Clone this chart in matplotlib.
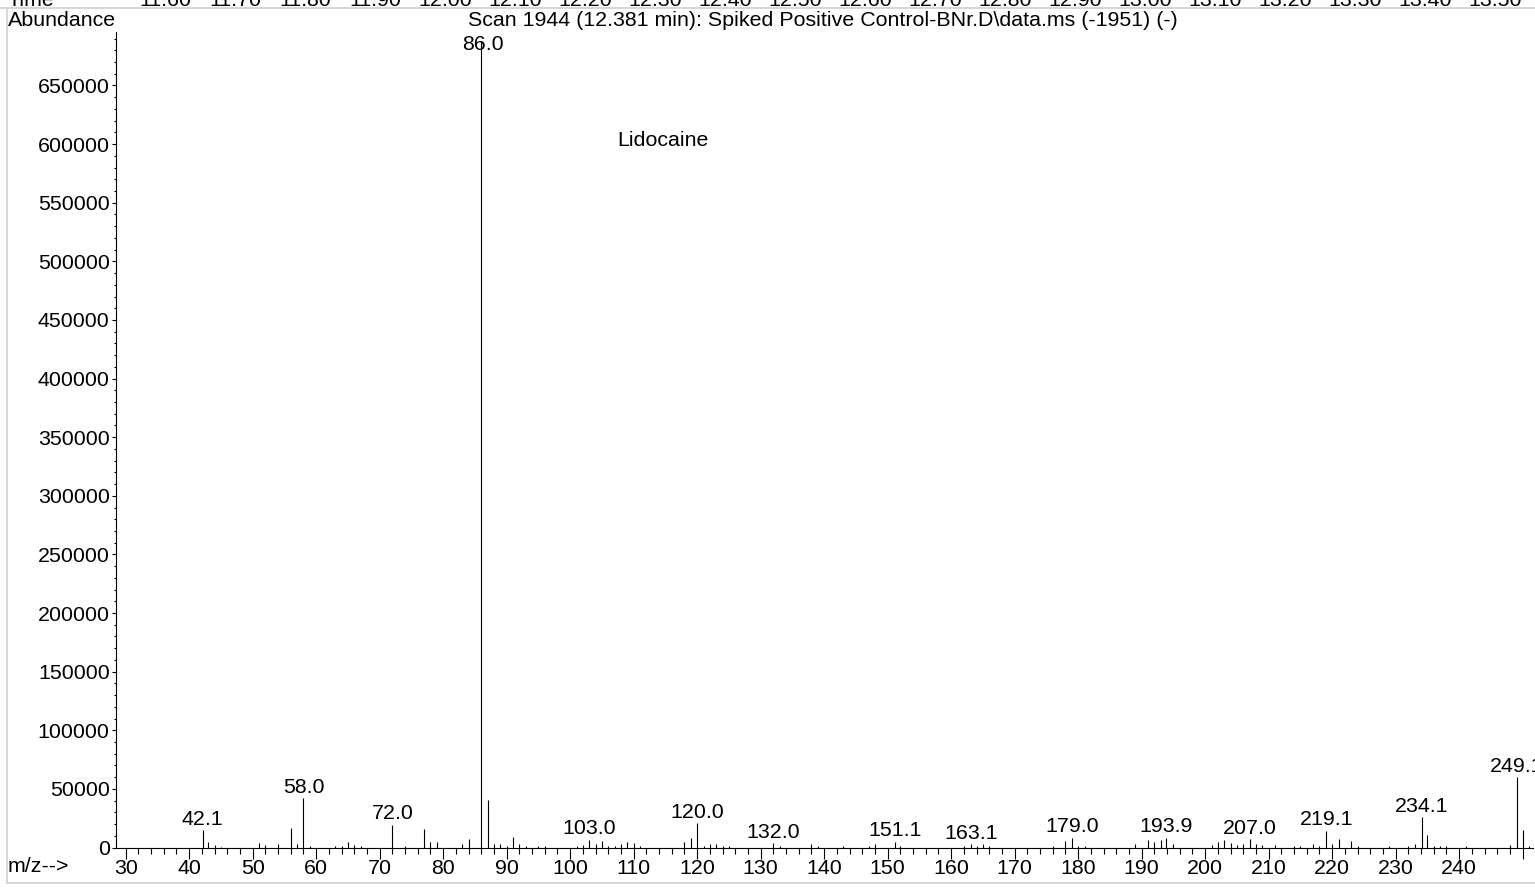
#!/usr/bin/env python3
"""Mass spectrum of scan 1944 (Lidocaine) drawn as a stick plot."""

import matplotlib
matplotlib.use("Agg")
import matplotlib.pyplot as plt
from matplotlib.lines import Line2D
from matplotlib.transforms import blended_transform_factory
from matplotlib.ticker import MultipleLocator, FixedLocator, FixedFormatter

plt.rcParams['font.family'] = ['Liberation Sans', 'DejaVu Sans']

# ---- data ----
# labelled peaks (m/z, abundance)
label_mz = [42.1, 58.0, 72.0, 86.0, 103.0, 120.0, 132.0, 151.1, 163.1,
            179.0, 193.9, 207.0, 219.1, 234.1, 249.1]
label_ab = [15000, 42300, 19500, 688000, 6500, 20800, 3700, 4800, 2800,
            8200, 8200, 7000, 14500, 26000, 60000]

# unlabelled minor peaks
minor_mz = [43, 44, 45, 51, 52, 54, 56, 57, 59, 63, 64, 65, 66, 67, 74, 77,
            78, 79, 83, 84, 87, 88, 89, 90, 91, 92, 93, 95, 96, 101, 102, 104,
            105, 106, 107, 108, 109, 110, 111, 118, 119, 121, 122, 123, 124,
            125, 133, 138, 139, 143, 147, 148, 152, 162, 164, 165, 166, 176,
            178, 180, 181, 189, 191, 192, 193, 195, 201, 202, 203, 204, 205,
            206, 208, 209, 211, 214, 215, 217, 218, 220, 221, 223, 224, 229,
            232, 233, 235, 236, 237, 238, 241, 248, 250, 251]
minor_ab = [4300, 2000, 800, 3700, 2000, 2600, 16500, 3100, 1400, 900, 1700,
            4500, 2000, 1700, 900, 16000, 4300, 4300, 2800, 7400, 40500, 2800,
            2800, 900, 8600, 2600, 1700, 1700, 900, 1100, 2000, 2600, 5400,
            1100, 1700, 2800, 4500, 4000, 900, 5100, 8200, 900, 3100, 2600,
            1700, 900, 900, 2600, 900, 1400, 900, 2600, 1400, 1700, 900, 2600,
            900, 900, 5400, 900, 1000, 2600, 6300, 5100, 6300, 3400, 2000,
            4800, 6300, 4000, 2300, 2600, 2800, 2000, 2000, 900, 900, 2800,
            1700, 3400, 7400, 5400, 900, 900, 1400, 3100, 10500, 900, 900,
            1700, 900, 2300, 15000, 900]

time_labels = ['11.60', '11.70', '11.80', '11.90', '12.00', '12.10', '12.20',
               '12.30', '12.40', '12.50', '12.60', '12.70', '12.80', '12.90',
               '13.00', '13.10', '13.20', '13.30', '13.40', '13.50']

title = r"Scan 1944 (12.381 min): Spiked Positive Control-BNr.D\data.ms (-1951) (-)"
compound = "Lidocaine"

W, H = 1535, 888
FS = 15.4
GRAY = '#d0d0d0'


def fx(px):
    return px / W


def fy(py):
    return 1 - py / H


fig = plt.figure(figsize=(W / 100, H / 100), dpi=100)

# main spectrum axes
left, right, top, base = 116, 1533, 32, 847.5
ax = fig.add_axes([fx(left), fy(base), fx(right - left), (base - top) / H])
px_per_mz = 6.35
x0 = 30 - (125.7 - left) / px_per_mz
ax.set_xlim(x0, x0 + (right - left) / px_per_mz)
ax.set_ylim(0, (base - top) * 853)

ax.vlines(minor_mz, 0, minor_ab, color='black', lw=0.8)
ax.vlines(label_mz, 0, label_ab, color='black', lw=0.8)

ymax = ax.get_ylim()[1]
for m, h in zip(label_mz, label_ab):
    if h > 0.9 * ymax:
        # base peak: label kept inside the plot, overlapping the stick
        ax.annotate(f"{m:.1f}", xy=(m, 1), xycoords=('data', 'axes fraction'),
                    xytext=(1, -2.5), textcoords='offset points',
                    ha='center', va='top', fontsize=FS, annotation_clip=False)
    else:
        ax.annotate(f"{m:.1f}", xy=(m, h), xytext=(0, 1),
                    textcoords='offset points', ha='center', va='bottom',
                    fontsize=FS, annotation_clip=False)

for side in ['top', 'right']:
    ax.spines[side].set_visible(False)
for side in ['left', 'bottom']:
    ax.spines[side].set_linewidth(0.8)

major_x = list(range(30, 251, 10))
ax.xaxis.set_major_locator(FixedLocator(major_x))
ax.xaxis.set_major_formatter(FixedFormatter([str(v) if v < 250 else '' for v in major_x]))
ax.xaxis.set_minor_locator(MultipleLocator(2))
ax.yaxis.set_major_locator(MultipleLocator(50000))
ax.yaxis.set_minor_locator(MultipleLocator(10000))
ax.tick_params(axis='x', which='major', length=8, width=0.8, pad=0, labelsize=FS)
ax.tick_params(axis='x', which='minor', length=4.3, width=0.8)
ax.tick_params(axis='y', which='major', length=3, width=0.8, pad=1.5, labelsize=FS)
ax.tick_params(axis='y', which='minor', length=1.8, width=0.8)

# time strip at the very top (mostly cut off by the figure edge)
ax_t = fig.add_axes([0, 0.99, 1, 0.01])
ax_t.axis('off')
t0 = 11.60 - 165 / 700
ax_t.set_xlim(t0, t0 + W / 700)
tr = blended_transform_factory(ax_t.transData, fig.transFigure)
for lab in time_labels:
    ax_t.text(float(lab), fy(6.5), lab, transform=tr, ha='center',
              va='baseline', fontsize=FS)
fig.text(fx(8), fy(6.5), "Time", ha='left', va='baseline', fontsize=FS)

# header texts
fig.text(fx(8), fy(25.5), "Abundance", ha='left', va='baseline', fontsize=FS)
fig.text(fx(823), fy(25.5), title, ha='center', va='baseline', fontsize=FS)
fig.text(fx(8), fy(872), "m/z-->", ha='left', va='baseline', fontsize=FS)
fig.text(fx(617), fy(146), compound, ha='left', va='baseline', fontsize=FS)

# light frame lines of the instrument printout
fig.add_artist(Line2D([0, 1], [fy(8), fy(8)], transform=fig.transFigure,
                      color=GRAY, lw=1.2))
fig.add_artist(Line2D([fx(7.5), fx(7.5)], [fy(8), fy(883)], transform=fig.transFigure,
                      color=GRAY, lw=1.2))
fig.add_artist(Line2D([fx(7.5), 1], [fy(883), fy(883)], transform=fig.transFigure,
                      color=GRAY, lw=1.2))

fig.savefig("out.png", dpi=100)
